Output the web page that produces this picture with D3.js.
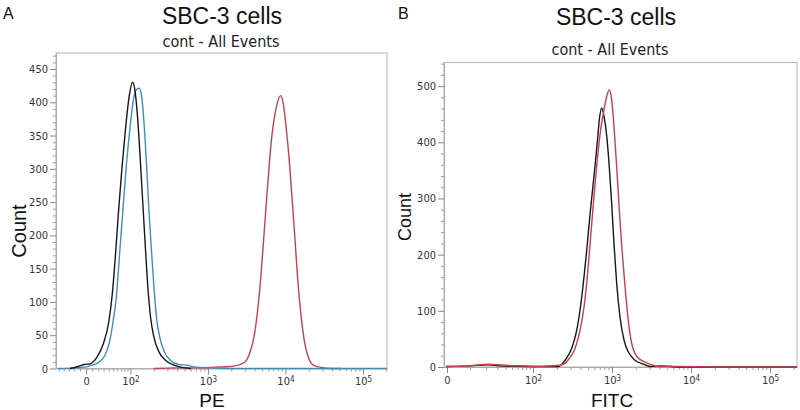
<!DOCTYPE html>
<html><head><meta charset="utf-8">
<script src="https://cdn.jsdelivr.net/npm/d3@7"></script>
<style>body{margin:0;background:#fff} svg{display:block}</style>
</head><body><svg id="c" width="800" height="410"></svg>
<script>
// ---- data (x in logicle display units: 10^k sits at k) ----
const xTickLabels = ["0", "10^2", "10^3", "10^4", "10^5"];
const peTickPos = [1.429, 2, 3, 4, 5];
const fitcTickPos = [0.911, 2, 3, 4, 5];
const countTicksA = [0, 50, 100, 150, 200, 250, 300, 350, 400, 450];
const countTicksB = [0, 100, 200, 300, 400, 500];

const peBlack = [[1.221,0],[1.325,3],[1.403,6],[1.481,7],[1.568,17],[1.653,38],[1.718,68],[1.762,107],[1.805,167],[1.848,238],[1.892,303],[1.935,358],[1.978,404],[2.030,430],[2.065,412],[2.095,373],[2.130,308],[2.165,238],[2.195,178],[2.225,122],[2.260,77],[2.303,47],[2.368,25],[2.455,12],[2.562,5],[2.649,2],[2.779,0]];
const peBlue = [[1.065,0],[1.286,1],[1.416,2],[1.506,5],[1.610,11],[1.662,18],[1.727,38],[1.773,68],[1.818,107],[1.857,167],[1.903,238],[1.948,306],[1.994,361],[2.039,404],[2.078,419],[2.113,421],[2.143,410],[2.175,370],[2.208,306],[2.240,235],[2.273,175],[2.305,120],[2.338,75],[2.383,45],[2.442,24],[2.519,12],[2.623,6],[2.727,5],[2.844,2],[3.039,1],[3.299,0],[5.31,0]];
const peRed = [[2.299,0],[2.6,1],[2.909,1],[3.1,2],[3.299,3],[3.471,9],[3.536,22],[3.594,47],[3.636,82],[3.679,133],[3.718,193],[3.753,248],[3.788,302],[3.818,342],[3.848,370],[3.883,393],[3.939,410],[3.970,399],[4.013,358],[4.056,303],[4.087,253],[4.121,198],[4.156,137],[4.199,82],[4.243,42],[4.295,17],[4.360,5],[4.445,2],[4.597,0],[4.727,0]];

const fitcBlack = [[0.899,1],[1.203,2],[1.430,4],[1.582,2],[1.962,1],[2.152,1],[2.320,1],[2.405,12],[2.489,33],[2.553,65],[2.595,101],[2.637,149],[2.680,208],[2.722,272],[2.756,318],[2.785,358],[2.815,402],[2.840,441],[2.870,461],[2.899,446],[2.933,411],[2.962,363],[2.996,291],[3.025,220],[3.059,149],[3.101,89],[3.152,48],[3.206,27],[3.291,12],[3.397,5],[3.481,1],[3.633,2],[3.861,0],[5.34,0]];
const fitcRed = [[0.899,1],[1.203,2],[1.430,5],[1.646,3],[1.835,2],[2.089,1],[2.342,3],[2.447,13],[2.532,33],[2.595,65],[2.646,107],[2.687,160],[2.730,232],[2.772,304],[2.814,369],[2.857,423],[2.899,458],[2.933,482],[2.966,493],[2.996,476],[3.025,428],[3.059,357],[3.092,280],[3.127,208],[3.165,143],[3.206,83],[3.249,42],[3.291,24],[3.333,16],[3.397,10],[3.481,5],[3.586,1],[3.861,1],[4.367,0],[5.342,0]];

// ---- drawing ----
const svg = d3.select("#c");
const TICK_FONT = "'DejaVu Sans Condensed', 'DejaVu Sans', sans-serif";

function minorXTicks(zero, w, dom) {
  const out = [];
  for (let k = 2; k <= 5; k++) for (let m = 2; m <= 9; m++) {
    const v = k + Math.log10(m);
    if (v < dom[1]) out.push(v);
  }
  const span = 2 - zero, den = Math.asinh(100 / w);
  for (let v = -90; v <= 90; v += 10) {
    if (v === 0) continue;
    const p = zero + span * Math.asinh(v / w) / den;
    if (p > dom[0]) out.push(p);
  }
  return out;
}

function drawPanel(p) {
  const g = svg.append("g");
  const x = d3.scaleLinear().domain(p.xDomain).range([p.left, p.right]);
  const y = d3.scaleLinear().domain([0, p.yMax]).range([p.bottom, p.top]);

  g.append("rect").attr("x", p.left).attr("y", p.top)
    .attr("width", p.right - p.left).attr("height", p.bottom - p.top)
    .attr("fill", "none").attr("stroke", "#b3b3b3").attr("stroke-width", 1);

  const yMinor = d3.range(0, p.yMax, p.yMinorStep).filter(v => p.yTicks.indexOf(v) < 0);
  g.append("g").attr("transform", `translate(${p.left},0)`)
    .call(d3.axisLeft(y).tickValues(yMinor).tickSize(3).tickSizeOuter(0).tickFormat(""))
    .call(a => a.select(".domain").remove())
    .selectAll("line").attr("stroke", "#999");
  const ya = g.append("g").attr("transform", `translate(${p.left},0)`)
    .call(d3.axisLeft(y).tickValues(p.yTicks).tickSize(6).tickSizeOuter(0).tickPadding(2));
  ya.select(".domain").attr("stroke", "#aaa");
  ya.selectAll("line").attr("stroke", "#888");
  ya.selectAll("text").attr("font-family", TICK_FONT).attr("font-size", 11).attr("fill", "#333");

  g.append("g").attr("transform", `translate(0,${p.bottom})`)
    .call(d3.axisBottom(x).tickValues(minorXTicks(p.xTicks[0], p.linW, p.xDomain)).tickSize(3).tickSizeOuter(0).tickFormat(""))
    .call(a => a.select(".domain").remove())
    .selectAll("line").attr("stroke", "#999");
  const xa = g.append("g").attr("transform", `translate(0,${p.bottom})`)
    .call(d3.axisBottom(x).tickValues(p.xTicks).tickSize(6).tickSizeOuter(0).tickPadding(3)
      .tickFormat((d, i) => xTickLabels[i]));
  xa.select(".domain").attr("stroke", "#aaa");
  xa.selectAll("line").attr("stroke", "#888");
  xa.selectAll("text").attr("font-family", TICK_FONT).attr("font-size", 11).attr("fill", "#333")
    .each(function(d, i) {
      const lab = xTickLabels[i];
      if (lab.indexOf("^") < 0) return;
      const [b, e] = lab.split("^");
      const t = d3.select(this).text(null);
      t.append("tspan").text(b);
      t.append("tspan").attr("dy", "-0.4em").attr("font-size", 8).text(e);
    });

  const line = d3.line().x(d => x(d[0])).y(d => y(d[1])).curve(d3.curveMonotoneX);
  p.series.forEach(s => {
    g.append("path").datum(s.data).attr("d", line)
      .attr("fill", "none").attr("stroke", s.color).attr("stroke-width", 1.4)
      .attr("stroke-linejoin", "round");
  });

  g.append("text").attr("x", p.letterX).attr("y", 19).text(p.letter)
    .attr("font-family", "'Liberation Sans', Arial, sans-serif").attr("font-size", 16).attr("fill", "#111");
  g.append("text").attr("x", p.titleX).attr("y", p.titleY).attr("text-anchor", "middle").text("SBC-3 cells")
    .attr("font-family", "'Liberation Sans', Arial, sans-serif").attr("font-size", 23).attr("fill", "#111");
  g.append("text").attr("x", p.subX).attr("y", p.subY).attr("text-anchor", "middle").text("cont - All Events")
    .attr("font-family", TICK_FONT).attr("font-size", 16).attr("fill", "#222");
  g.append("text").attr("transform", `translate(${p.countX},${p.countY}) rotate(-90)`)
    .attr("text-anchor", "middle").text("Count")
    .attr("font-family", "'Liberation Sans', Arial, sans-serif").attr("font-size", p.countSize).attr("fill", "#111");
  g.append("text").attr("x", p.xLabX).attr("y", 407).attr("text-anchor", "middle").text(p.xLabel)
    .attr("font-family", "'Liberation Sans', Arial, sans-serif").attr("font-size", 19).attr("fill", "#111");
}

drawPanel({
  left: 56, right: 387, top: 53, bottom: 368.5,
  xDomain: [1.04, 5.31], yMax: 474, yTicks: countTicksA, yMinorStep: 10,
  xTicks: peTickPos, linW: 50,
  series: [{data: peRed, color: "#c2414a"}, {data: peBlue, color: "#3c8fb8"}, {data: peBlack, color: "#161616"}],
  letter: "A", letterX: 3, titleX: 222, titleY: 24, subX: 221, subY: 47,
  countX: 26, countY: 231, countSize: 20, xLabel: "PE", xLabX: 212
});
drawPanel({
  left: 444, right: 797, top: 62.5, bottom: 367,
  xDomain: [0.873, 5.342], yMax: 542, yTicks: countTicksB, yMinorStep: 20,
  xTicks: fitcTickPos, linW: 12,
  series: [{data: fitcBlack, color: "#161616"}, {data: fitcRed, color: "#c2414a"}],
  letter: "B", letterX: 398, titleX: 616, titleY: 25, subX: 610, subY: 55,
  countX: 411, countY: 217, countSize: 18, xLabel: "FITC", xLabX: 612
});
</script></body></html>
